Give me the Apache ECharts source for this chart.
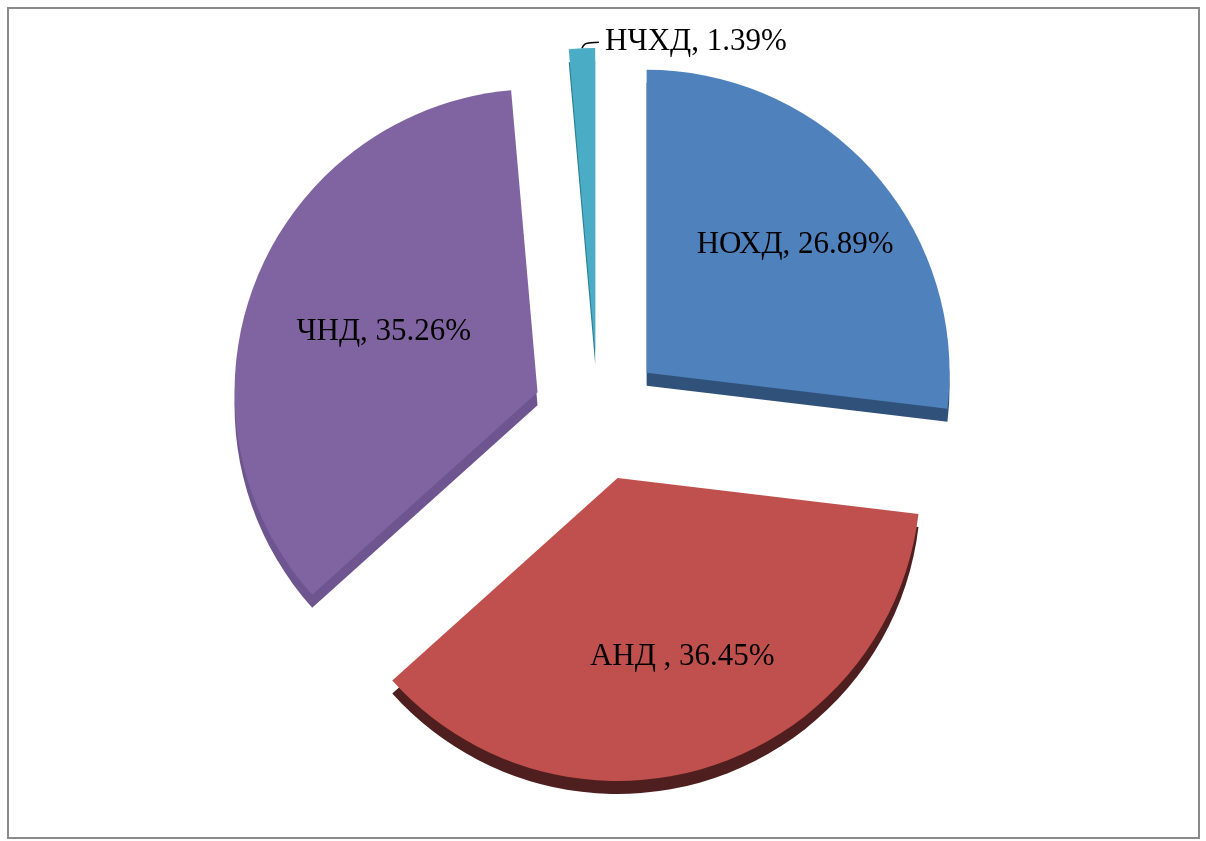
<!DOCTYPE html>
<html>
<head>
<meta charset="utf-8">
<script src="https://cdn.jsdelivr.net/npm/echarts@6/dist/echarts.min.js"></script>
<style>
    html, body { margin: 0; padding: 0; background: #fff; }
    .frame {
        position: absolute;
        left: 7px;
        top: 7px;
        width: 1193px;
        height: 832px;
        border: 2px solid #8a8a8a;
        box-sizing: border-box;
    }
    #chart {
        position: absolute;
        left: 0;
        top: 0;
        width: 1206px;
        height: 841px;
    }
</style>
</head>
<body>
<div class="frame"></div>
<div id="chart"></div>
<script>
// данные диаграммы
const categories = ['НОХД', 'АНД ', 'ЧНД', 'НЧХД']
const shares = [26.89, 36.45, 35.26, 1.39]

const topColors = ['#4f81bd', '#c0504d', '#8064a2', '#4bacc6']
const sideColors = ['#30527a', '#4e1f1e', '#6f5590', '#2c7f94']

// сдвиг подписей (внутри секторов + выноска для НЧХД)
const labelShift = [[33, -25], [18, 32], [-10, -4], [218, -2]]

const chartInstance = echarts.init(document.getElementById('chart'))

const pieCenter = [598, 416]
const pieRadius = 303
const explode = 65

const sideData = categories.map((name, i) => ({
    name: name,
    value: shares[i],
    selected: true,
    itemStyle: { color: sideColors[i] }
}))

const topData = categories.map((name, i) => ({
    name: name,
    value: shares[i],
    selected: true,
    itemStyle: { color: topColors[i] },
    label: i === 3 ? { position: 'outside' } : { position: 'inside' },
    labelLine: { show: i === 3 }
}))

const option = {
    animation: false,
    series: [
        // боковая грань (объём)
        {
            type: 'pie',
            silent: true,
            center: [pieCenter[0], pieCenter[1] + 13],
            radius: pieRadius,
            startAngle: 90,
            selectedMode: 'multiple',
            selectedOffset: explode,
            label: { show: false },
            labelLine: { show: false },
            emphasis: { disabled: true },
            data: sideData
        },
        {
            type: 'pie',
            center: pieCenter,
            radius: pieRadius,
            startAngle: 90,
            selectedMode: 'multiple',
            selectedOffset: explode,
            avoidLabelOverlap: false,
            emphasis: { disabled: true },
            label: {
                show: true,
                formatter: (p) => p.name + ', ' + p.value.toFixed(2) + '%',
                fontFamily: 'Liberation Serif',
                fontSize: 31,
                color: '#000'
            },
            labelLine: {
                length: 4,
                length2: 8,
                smooth: 0.4,
                lineStyle: { color: '#000', width: 1.5 }
            },
            labelLayout: (params) => {
                const s = labelShift[params.dataIndex]
                if (params.dataIndex === 3) {
                    // точки до смещения выдвинутого сектора
                    const p0 = params.labelLinePoints[0]
                    return {
                        dx: s[0],
                        dy: s[1],
                        labelLinePoints: [p0, [p0[0] + 2, p0[1] - 5], [p0[0] + 17, p0[1] - 6]]
                    }
                }
                return { dx: s[0], dy: s[1] }
            },
            data: topData
        }
    ]
}

chartInstance.setOption(option)
</script>
</body>
</html>
